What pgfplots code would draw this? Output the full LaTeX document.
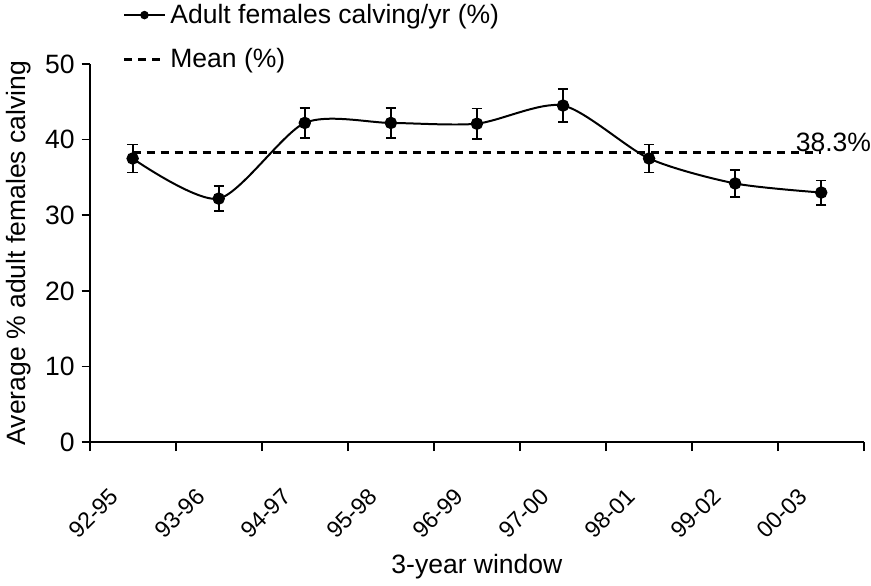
\documentclass[border=0pt]{standalone}
\usepackage{fontspec}
\setmainfont{Liberation Sans}
\usepackage{pgfplots}
\pgfplotsset{compat=1.18}
\pgfplotsset{
  legmark/.style={legend image code/.code={\draw[mark repeat=2,mark phase=2,##1, mark size=1.6bp] plot coordinates {(0cm,0cm)(0.36cm,0cm)(0.72cm,0cm)};}},
  legdash/.style={legend image code/.code={\draw[##1] (0cm,0cm) -- (0.72cm,0cm);}},
}
\begin{document}
\begin{tikzpicture}
\begin{axis}[
  scale only axis, width=387bp, height=189bp,
  xmin=0, xmax=9, ymin=0, ymax=50,
  axis lines=left,
  axis line style={-, line width=0.9pt},
  every tick/.style={black, line width=0.9pt},
  tick align=outside,
  major tick length=4bp,
  minor tick length=4.5bp,
  ytick={0,10,20,30,40,50},
  xtick={0.5,1.5,2.5,3.5,4.5,5.5,6.5,7.5,8.5},
  xticklabels={92-95,93-96,94-97,95-98,96-99,97-00,98-01,99-02,00-03},
  major x tick style={draw=none},
  minor xtick={0,1,2,3,4,5,6,7,8,9},
  /pgf/number format/assume math mode=true,
  tick label style={font=\fontsize{13.3}{15}\selectfont},
  x tick label style={xshift=-12bp, yshift=-16.5bp, rotate=45, anchor=north east, inner sep=1pt, font=\fontsize{11.6}{13}\selectfont},
  label style={font=\fontsize{13.3}{16}\selectfont},
  xlabel={3-year window},
  xlabel style={at={(axis description cs:0.5,0)}, anchor=base, yshift=-65.5bp},
  ylabel={Average \% adult females calving},
  legend style={at={(axis description cs:0.042,1.17)}, anchor=north west,
    draw=none, fill=none, font=\fontsize{13.3}{16}\selectfont,
    row sep=7bp, cells={anchor=west}, inner sep=0pt},
  clip=false,
]
\addplot[black, line width=1pt, smooth, tension=0.45, mark=*, mark size=2.6bp,
  mark options={solid}, legmark,
  error bars/.cd, y dir=both, y explicit,
  error bar style={line width=0.9pt}, error mark options={rotate=90, mark size=2.6bp, line width=0.9pt}]
  table[x=x, y=y, y error=e] {
  x   y     e
  0.5 37.5  1.85
  1.5 32.2  1.65
  2.5 42.2  2.0
  3.5 42.2  2.0
  4.5 42.1  2.0
  5.5 44.5  2.15
  6.5 37.5  1.85
  7.5 34.2  1.75
  8.5 33.0  1.6
  };
\addlegendentry{Adult females calving/yr (\%)}
\addplot[black, line width=1.5pt, dash pattern=on 4bp off 3bp, legdash]
  coordinates {(0.5,38.3) (8.5,38.3)};
\addlegendentry{Mean (\%)}
\node[anchor=south west, inner sep=0pt, font=\fontsize{13.3}{16}\selectfont] at (axis cs:8.2,38.3) {38.3\%};
\end{axis}
\end{tikzpicture}
\end{document}
